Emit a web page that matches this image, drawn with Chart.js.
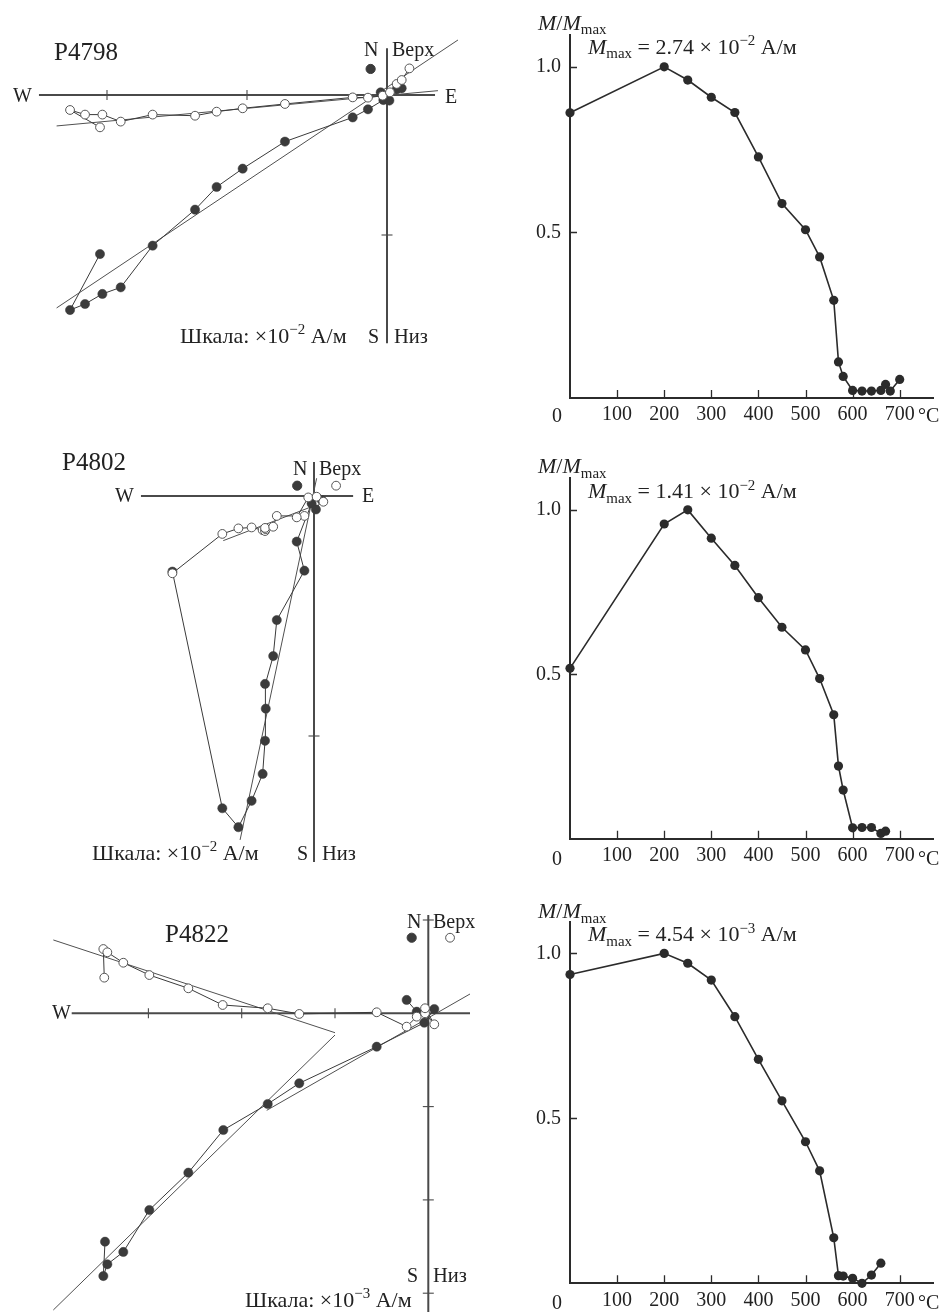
<!DOCTYPE html>
<html lang="ru"><head><meta charset="utf-8">
<title>Zijderveld diagrams and thermal demagnetization</title>
<script src="https://cdn.jsdelivr.net/npm/chart.js@4.4.1/dist/chart.umd.min.js"></script>
<style>
html,body{margin:0;padding:0;background:#fff;}
body{width:949px;height:1312px;position:relative;overflow:hidden;}
canvas{position:absolute;}
.t{position:absolute;white-space:nowrap;line-height:1;font-family:"Liberation Serif","Times New Roman",serif;color:#222;z-index:5;}
.t sup{font-size:0.68em;vertical-align:baseline;position:relative;top:-0.55em;}
.t sub{font-size:0.68em;vertical-align:baseline;position:relative;top:0.3em;}
</style></head><body>
<script>
// ===================== DATA =====================
// Zijderveld diagram P4798 (units: ×10^-2 A/m); filled = horizontal (E,N), open = vertical (E,Up)
const p4798_hE = [-2.05,-2.264,-2.157,-2.033,-1.902,-1.674,-1.371,-1.217,-1.031,-0.729,-0.245,-0.136,-0.026,0.017,-0.045,0.069,0.105];
const p4798_hN = [-1.136,-1.536,-1.493,-1.421,-1.374,-1.076,-0.819,-0.657,-0.526,-0.333,-0.160,-0.102,-0.036,-0.040,0.019,0.040,0.048];
const p4798_vE = [-2.05,-2.264,-2.157,-2.033,-1.902,-1.674,-1.371,-1.217,-1.031,-0.729,-0.245,-0.136,-0.031,0.021,0.069,0.105,0.160];
const p4798_vU = [-0.231,-0.107,-0.140,-0.140,-0.190,-0.140,-0.148,-0.119,-0.095,-0.064,-0.017,-0.019,-0.005,0.019,0.079,0.107,0.190];
const p4798_soloHE = [-0.117], p4798_soloHN = [0.186];
const p4798_fitHE = [-2.36,0.507], p4798_fitHN = [-1.521,0.393];
const p4798_fitVE = [-2.36,0.364], p4798_fitVU = [-0.221,0.031];
const p4798_axisE = [-2.486,0.343], p4798_axisN = [0.334,-1.774];
const p4798_tickE = [-1,-2], p4798_tickN = [-1];

// Zijderveld diagram P4802 (units: ×10^-2 A/m)
const p4802_hE = [-0.590,-0.382,-0.315,-0.260,-0.214,-0.204,-0.201,-0.204,-0.170,-0.155,-0.040,-0.072,-0.010,0.008,0.032];
const p4802_hN = [-0.315,-1.301,-1.380,-1.270,-1.158,-1.020,-0.886,-0.783,-0.667,-0.517,-0.311,-0.190,-0.031,-0.056,-0.017];
const p4802_vE = [-0.590,-0.382,-0.315,-0.260,-0.214,-0.204,-0.201,-0.204,-0.170,-0.155,-0.040,-0.072,-0.024,0.011,0.039];
const p4802_vU = [-0.322,-0.158,-0.135,-0.131,-0.142,-0.146,-0.138,-0.133,-0.128,-0.083,-0.083,-0.089,-0.006,-0.003,-0.024];
const p4802_soloHE = [-0.070], p4802_soloHN = [0.043];
const p4802_soloVE = [0.092], p4802_soloVU = [0.043];
const p4802_fitHE = [-0.308,0.011], p4802_fitHN = [-1.433,0.074];
const p4802_fitVE = [-0.378,-0.003], p4802_fitVU = [-0.186,-0.042];
const p4802_axisE = [-0.721,0.163], p4802_axisN = [0.142,-1.525];
const p4802_tickE = [], p4802_tickN = [-1];

// Zijderveld diagram P4822 (units: ×10^-3 A/m)
const p4822_hE = [-3.465,-3.483,-3.440,-3.269,-2.990,-2.572,-2.197,-1.721,-1.383,-0.553,-0.043,0.064,-0.124,-0.232];
const p4822_hN = [-2.448,-2.816,-2.690,-2.558,-2.108,-1.708,-1.251,-0.972,-0.750,-0.358,-0.101,0.046,0.017,0.143];
const p4822_vE = [-3.473,-3.483,-3.440,-3.269,-2.990,-2.572,-2.204,-1.721,-1.383,-0.553,-0.232,-0.124,-0.035,0.064,-0.035];
const p4822_vU = [0.382,0.689,0.654,0.542,0.410,0.268,0.089,0.054,-0.007,0.011,-0.143,-0.036,0.000,-0.118,0.054];
const p4822_soloHE = [-0.178], p4822_soloHN = [0.810];
const p4822_soloVE = [0.233], p4822_soloVU = [0.810];
const p4822_fitVE = [-4.019,-1.0], p4822_fitVU = [0.786,-0.208];
const p4822_fitHE = [-1.0,-4.019], p4822_fitHN = [-0.233,-3.180];
const p4822_fit2E = [-1.732,0.447], p4822_fit2N = [-1.04,0.207];
const p4822_axisE = [-3.822,0.447], p4822_axisN = [1.054,-3.201];
const p4822_tickE = [-1,-2,-3], p4822_tickN = [1,-1,-2,-3];

// Thermal demagnetization curves (T in °C, M/Mmax)
const r4798_T = [0,200,250,300,350,400,450,500,530,560,570,580,600,620,640,660,670,680,700];
const r4798_M = [0.861,1.0,0.960,0.908,0.862,0.728,0.587,0.508,0.426,0.295,0.109,0.065,0.023,0.021,0.021,0.023,0.041,0.021,0.056];
const r4802_T = [0,200,250,300,350,400,450,500,530,560,570,580,600,620,640,660,670];
const r4802_M = [0.518,0.957,1.0,0.914,0.831,0.733,0.643,0.574,0.487,0.377,0.221,0.148,0.033,0.034,0.034,0.016,0.023];
const r4822_T = [0,200,250,300,350,400,450,500,530,560,570,580,600,620,640,660];
const r4822_M = [0.936,1.0,0.970,0.919,0.808,0.679,0.553,0.429,0.341,0.138,0.023,0.022,0.015,0.0,0.025,0.061];
const tempTicks = [100,200,300,400,500,600,700];
const ratioTicks = [0.5,1.0];
const mmaxLabels = ['2.74 × 10<sup>−2</sup>','1.41 × 10<sup>−2</sup>','4.54 × 10<sup>−3</sup>'];

// ===================== RENDER =====================
const FONT = '"Liberation Serif","Times New Roman",serif';
Chart.defaults.font.family = FONT;
const pts = (xs, ys) => xs.map((x, i) => ({x, y: ys[i]}));

function makeCanvas(r) {
  const cv = document.createElement('canvas');
  cv.width = r.w; cv.height = r.h;
  cv.style.left = r.x + 'px'; cv.style.top = r.y + 'px';
  document.body.appendChild(cv);
  return cv;
}

const AX = '#4a4a4a', LN = '#3a3a3a', FILL = '#3b3b3b', OPEN = '#555';

function zij(c) {
  const r = c.rect, o = c.origin, u = c.unit;
  const cv = makeCanvas(r);
  const datasets = [
    {data: pts(c.axisE, [0, 0]), showLine: true, borderColor: AX, borderWidth: 2, pointRadius: 0, order: 10, clip: false},
    {data: pts([0, 0], c.axisN), showLine: true, borderColor: AX, borderWidth: 2, pointRadius: 0, order: 10, clip: false},
    {data: c.tickE.map(x => ({x, y: 0})), pointStyle: 'line', pointRotation: 90, pointRadius: 5, borderColor: AX, pointBorderWidth: 1.1, order: 9, clip: false},
    {data: c.tickN.map(y => ({x: 0, y})), pointStyle: 'line', pointRotation: 0, pointRadius: 5.5, borderColor: AX, pointBorderWidth: 1.1, order: 9, clip: false}
  ];
  c.fits.forEach(f => datasets.push({data: pts(f[0], f[1]), showLine: true, borderColor: '#505050', borderWidth: 1, pointRadius: 0, order: 8, clip: false}));
  datasets.push({data: pts(c.hE, c.hN), showLine: true, borderColor: LN, borderWidth: 1, pointRadius: 4.6,
    pointBackgroundColor: FILL, pointBorderColor: FILL, pointBorderWidth: 0.5, order: 4, clip: false});
  datasets.push({data: pts(c.vE, c.vU), showLine: true, borderColor: LN, borderWidth: 1, pointRadius: 4.4,
    pointBackgroundColor: '#fff', pointBorderColor: OPEN, pointBorderWidth: 1, order: 3, clip: false});
  if (c.soloH) datasets.push({data: pts(c.soloH[0], c.soloH[1]), pointRadius: 4.6, pointBackgroundColor: FILL, pointBorderColor: FILL, order: 2, clip: false});
  if (c.soloV) datasets.push({data: pts(c.soloV[0], c.soloV[1]), pointRadius: 4.4, pointBackgroundColor: '#fff', pointBorderColor: OPEN, pointBorderWidth: 1, order: 2, clip: false});
  new Chart(cv, {
    type: 'scatter',
    data: {datasets},
    options: {
      responsive: false, animation: false, events: [],
      layout: {padding: 0, autoPadding: false},
      plugins: {legend: {display: false}, tooltip: {enabled: false}},
      scales: {
        x: {type: 'linear', display: false, min: (r.x - o.x) / u, max: (r.x + r.w - o.x) / u},
        y: {type: 'linear', display: false, min: (o.y - r.y - r.h) / u, max: (o.y - r.y) / u}
      }
    }
  });
}

zij({rect: {x: 0, y: 0, w: 475, h: 380}, origin: {x: 387, y: 95}, unit: 140,
  hE: p4798_hE, hN: p4798_hN, vE: p4798_vE, vU: p4798_vU,
  soloH: [p4798_soloHE, p4798_soloHN],
  fits: [[p4798_fitHE, p4798_fitHN], [p4798_fitVE, p4798_fitVU]],
  axisE: p4798_axisE, axisN: p4798_axisN, tickE: p4798_tickE, tickN: p4798_tickN});

zij({rect: {x: 0, y: 430, w: 475, h: 450}, origin: {x: 314, y: 496}, unit: 240,
  hE: p4802_hE, hN: p4802_hN, vE: p4802_vE, vU: p4802_vU,
  soloH: [p4802_soloHE, p4802_soloHN], soloV: [p4802_soloVE, p4802_soloVU],
  fits: [[p4802_fitHE, p4802_fitHN], [p4802_fitVE, p4802_fitVU]],
  axisE: p4802_axisE, axisN: p4802_axisN, tickE: p4802_tickE, tickN: p4802_tickN});

zij({rect: {x: 0, y: 880, w: 475, h: 432}, origin: {x: 428.3, y: 1013.3}, unit: 93.3,
  hE: p4822_hE, hN: p4822_hN, vE: p4822_vE, vU: p4822_vU,
  soloH: [p4822_soloHE, p4822_soloHN], soloV: [p4822_soloVE, p4822_soloVU],
  fits: [[p4822_fitVE, p4822_fitVU], [p4822_fitHE, p4822_fitHN], [p4822_fit2E, p4822_fit2N]],
  axisE: p4822_axisE, axisN: p4822_axisN, tickE: p4822_tickE, tickN: p4822_tickN});

const innerTicks = {
  id: 'innerTicks',
  afterDraw(chart) {
    const {ctx, scales: {x, y}} = chart;
    ctx.save();
    ctx.strokeStyle = '#2b2b2b'; ctx.lineWidth = 1.3;
    ctx.beginPath();
    tempTicks.forEach(v => { const px = Math.round(x.getPixelForValue(v)) + 0.5; ctx.moveTo(px, y.bottom); ctx.lineTo(px, y.bottom - 8); });
    ratioTicks.forEach(v => { const py = Math.round(y.getPixelForValue(v)) + 0.5; ctx.moveTo(x.left, py); ctx.lineTo(x.left + 7, py); });
    ctx.stroke();
    ctx.restore();
  }
};

function demag(c) {
  const cv = makeCanvas(c.rect);
  new Chart(cv, {
    type: 'scatter',
    data: {datasets: [{data: pts(c.T, c.M), showLine: true, borderColor: '#2b2b2b', borderWidth: 1.6,
      pointRadius: 4.6, pointBackgroundColor: '#2b2b2b', pointBorderColor: '#2b2b2b', pointBorderWidth: 0, clip: false}]},
    options: {
      responsive: false, animation: false, events: [],
      layout: {padding: {left: 0, top: c.top, right: 16, bottom: 0}, autoPadding: false},
      plugins: {legend: {display: false}, tooltip: {enabled: false}},
      scales: {
        x: {type: 'linear', min: 0, max: 770.7,
          grid: {display: false, drawTicks: false},
          border: {display: true, color: '#2b2b2b', width: 2},
          ticks: {stepSize: 100, includeBounds: false, autoSkip: false, maxRotation: 0, padding: 5, color: '#222',
            font: {family: FONT, size: 20}, callback: v => tempTicks.includes(v) ? String(v) : ''},
          afterFit: s => { s.height = c.xh; }},
        y: {type: 'linear', min: 0, max: 1.096,
          grid: {display: false, drawTicks: false},
          border: {display: true, color: '#2b2b2b', width: 2},
          ticks: {stepSize: 0.5, includeBounds: false, padding: 9, color: '#222',
            font: {family: FONT, size: 20}, callback: v => ratioTicks.some(t => Math.abs(t - v) < 1e-9) ? v.toFixed(1) : ''},
          afterFit: s => { s.width = 50; }}
      }
    },
    plugins: [innerTicks]
  });
}

demag({rect: {x: 520, y: 0, w: 429, h: 440}, top: 35, xh: 42, T: r4798_T, M: r4798_M});
demag({rect: {x: 520, y: 440, w: 429, h: 440}, top: 38.3, xh: 41.3, T: r4802_T, M: r4802_M});
demag({rect: {x: 520, y: 880, w: 429, h: 432}, top: 41.7, xh: 28.7, T: r4822_T, M: r4822_M});

// ===================== TEXT =====================
function txt(html, x, base, size, center) {
  const d = document.createElement('div');
  d.className = 't'; d.innerHTML = html;
  d.style.fontSize = size + 'px';
  d.style.top = (base - 0.8375 * size) + 'px';
  d.style.left = x + 'px';
  if (center) d.style.transform = 'translateX(-50%)';
  document.body.appendChild(d);
}
const scaleTxt = p => 'Шкала: ×10<sup>−' + p + '</sup> А/м';
[
  ['P4798', 54, 59.5, 25], ['W', 13, 102, 20], ['E', 445, 102.5, 20], ['N', 364, 56, 20], ['Верх', 392, 56, 20],
  ['S', 368, 343, 20], ['Низ', 394, 343, 20.5], [scaleTxt(2), 180, 343, 22],
  ['P4802', 62, 469.5, 25], ['W', 115, 502, 20], ['E', 362, 502, 20], ['N', 293, 474.5, 20], ['Верх', 319, 474.5, 20],
  ['S', 297, 860, 20], ['Низ', 322, 860, 20.5], [scaleTxt(2), 92, 860, 22],
  ['P4822', 165, 942, 25], ['N', 407, 927.5, 20], ['Верх', 433, 927.5, 20], ['W', 52, 1018.5, 20],
  ['S', 407, 1282, 20], ['Низ', 433, 1282, 20.5], [scaleTxt(3), 245, 1307, 22]
].forEach(a => txt(a[0], a[1], a[2], a[3]));

const mm = '<i>M</i>/<i>M</i><sub>max</sub>';
[[30, 54, 422], [473.5, 498.5, 864.5], [918.5, 941.5, 1308.5]].forEach((b, i) => {
  txt(mm, 538, b[0], 22);
  txt('<i>M</i><sub>max</sub> = ' + mmaxLabels[i] + ' А/м', 588, b[1], 22);
  txt('0', 557, b[2], 20, true);
  txt('°C', 918, b[2], 20);
});
</script>
</body></html>
